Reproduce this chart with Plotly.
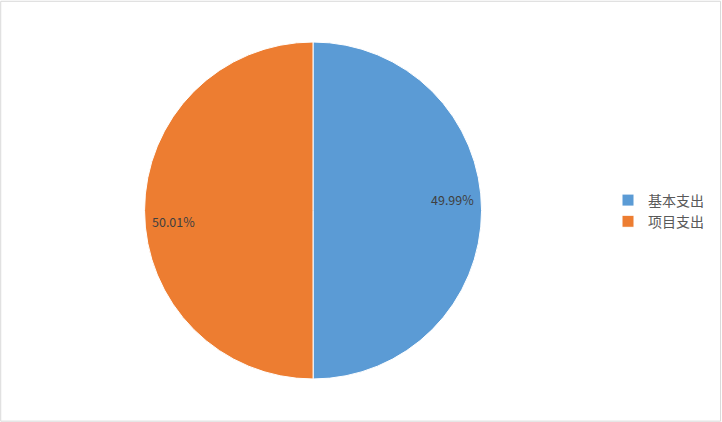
import math
import plotly.graph_objects as go

labels = ["基本支出", "项目支出"]
values = [49.99, 50.01]
colors = ["#5B9BD5", "#ED7D31"]

W, H = 722, 422
cx, cy, r = 313, 210.5, 168.5

fig = go.Figure(go.Pie(
    labels=labels,
    values=values,
    sort=False,
    direction="clockwise",
    rotation=0,
    marker=dict(colors=colors, line=dict(color="#FFFFFF", width=1)),
    textinfo="none",
    domain=dict(x=[(cx - r) / W, (cx + r) / W], y=[(H - cy - r) / H, (H - cy + r) / H]),
    hoverinfo="label+percent",
))

# data labels placed near the outer edge of each slice (computed from the values)
total = sum(values)
annotations = []
start = 0.0
for v in values:
    mid = start + v / total * 360 / 2
    start += v / total * 360
    ang = math.radians(mid - 4.3)  # clockwise from top
    rr = 0.83 * r
    px = cx + rr * math.sin(ang)
    py = cy - rr * math.cos(ang)
    annotations.append(dict(
        x=px / W, y=1 - py / H, xref="paper", yref="paper",
        text=f"{v / total * 100:.2f}%", showarrow=False,
        xanchor="center", yanchor="middle",
        font=dict(size=12.5, color="#404040", family="Noto Sans CJK SC"),
    ))

fig.update_layout(
    width=W, height=H,
    margin=dict(l=0, r=0, t=0, b=0),
    paper_bgcolor="#FFFFFF",
    plot_bgcolor="#FFFFFF",
    showlegend=True,
    legend=dict(
        x=608 / W, y=0.5, xanchor="left", yanchor="middle",
        font=dict(size=14, color="#595959", family="Noto Sans CJK SC"),
        itemwidth=30, tracegroupgap=0,
    ),
    annotations=annotations,
    shapes=[dict(type="rect", xref="paper", yref="paper", x0=0.001, y0=0.002, x1=0.998, y1=0.997,
                 line=dict(color="#D9D9D9", width=1), fillcolor="rgba(0,0,0,0)")],
)

fig.write_html("out.html", config={"displayModeBar": False},
               post_script="document.body.style.margin='0';document.body.style.overflow='hidden';")
